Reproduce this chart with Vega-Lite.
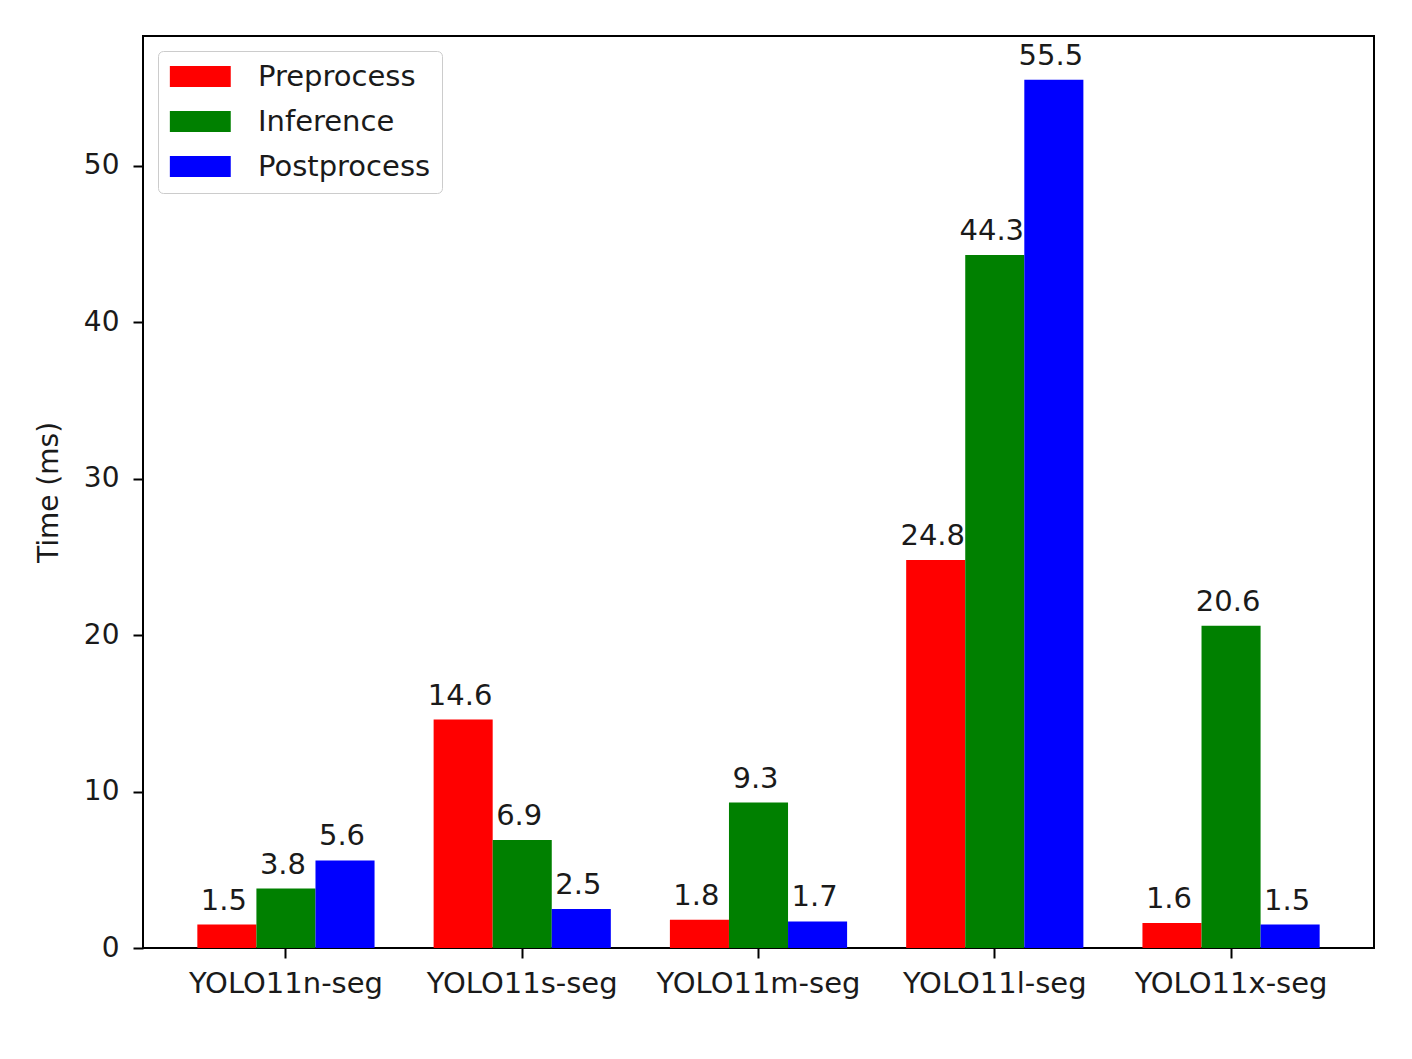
{
  "$schema": "https://vega.github.io/schema/vega-lite/v6.json",
  "autosize": {"type": "none"},
  "padding": {"left": 143, "top": 36, "right": 38, "bottom": 111},
  "width": 1231,
  "height": 912,
  "background": "white",
  "config": {
    "font": "DejaVu Sans",
    "view": {"stroke": "black", "strokeWidth": 2},
    "axis": {
      "labelFont": "DejaVu Sans",
      "labelFontSize": 28,
      "labelColor": "#1a1a1a",
      "labelLimit": 0,
      "titleFont": "DejaVu Sans",
      "titleFontSize": 28,
      "titleFontWeight": "normal",
      "titleColor": "#1a1a1a",
      "tickColor": "black",
      "tickWidth": 2,
      "tickSize": 10,
      "domain": false,
      "grid": false
    }
  },
  "data": {
    "values": [
      {"model": "YOLO11n-seg", "stage": "Preprocess", "time": 1.5},
      {"model": "YOLO11n-seg", "stage": "Inference", "time": 3.8},
      {"model": "YOLO11n-seg", "stage": "Postprocess", "time": 5.6},
      {"model": "YOLO11s-seg", "stage": "Preprocess", "time": 14.6},
      {"model": "YOLO11s-seg", "stage": "Inference", "time": 6.9},
      {"model": "YOLO11s-seg", "stage": "Postprocess", "time": 2.5},
      {"model": "YOLO11m-seg", "stage": "Preprocess", "time": 1.8},
      {"model": "YOLO11m-seg", "stage": "Inference", "time": 9.3},
      {"model": "YOLO11m-seg", "stage": "Postprocess", "time": 1.7},
      {"model": "YOLO11l-seg", "stage": "Preprocess", "time": 24.8},
      {"model": "YOLO11l-seg", "stage": "Inference", "time": 44.3},
      {"model": "YOLO11l-seg", "stage": "Postprocess", "time": 55.5},
      {"model": "YOLO11x-seg", "stage": "Preprocess", "time": 1.6},
      {"model": "YOLO11x-seg", "stage": "Inference", "time": 20.6},
      {"model": "YOLO11x-seg", "stage": "Postprocess", "time": 1.5}
    ]
  },
  "encoding": {
    "x": {
      "field": "model",
      "type": "nominal",
      "sort": ["YOLO11n-seg", "YOLO11s-seg", "YOLO11m-seg", "YOLO11l-seg", "YOLO11x-seg"],
      "scale": {"paddingInner": 0.25, "paddingOuter": 0.23},
      "axis": {"title": null, "labelAngle": 0, "labelPadding": 11, "labelFontSize": 29}
    },
    "xOffset": {
      "field": "stage",
      "type": "nominal",
      "sort": ["Preprocess", "Inference", "Postprocess"],
      "scale": {"paddingInner": 0, "paddingOuter": 0}
    },
    "y": {
      "field": "time",
      "type": "quantitative",
      "scale": {"domain": [0, 58.3], "nice": false, "zero": true},
      "axis": {"title": "Time (ms)", "values": [0, 10, 20, 30, 40, 50], "labelPadding": 14, "titlePadding": 20}
    }
  },
  "layer": [
    {
      "mark": {"type": "bar", "stroke": null},
      "encoding": {
        "color": {
          "field": "stage",
          "type": "nominal",
          "sort": ["Preprocess", "Inference", "Postprocess"],
          "scale": {"domain": ["Preprocess", "Inference", "Postprocess"], "range": ["#ff0000", "#008000", "#0000ff"]},
          "legend": {
            "title": null,
            "orient": "top-left",
            "offset": 15,
            "symbolType": "M-1.3,-1H4.5V1H-1.3Z",
            "symbolSize": 441,
            "symbolStrokeWidth": 0,
            "symbolOpacity": 1,
            "labelFont": "DejaVu Sans",
            "labelFontSize": 29,
            "labelColor": "#1a1a1a",
            "labelLimit": 0,
            "labelOffset": 60,
            "rowPadding": 15,
            "padding": 11,
            "strokeColor": "#cccccc",
            "fillColor": "white",
            "cornerRadius": 5
          }
        }
      }
    },
    {
      "mark": {"type": "text", "baseline": "alphabetic", "dy": -15, "dx": -3, "fontSize": 29, "font": "DejaVu Sans", "color": "#1a1a1a"},
      "encoding": {
        "text": {"field": "time", "type": "quantitative", "format": ".1f"}
      }
    }
  ]
}
